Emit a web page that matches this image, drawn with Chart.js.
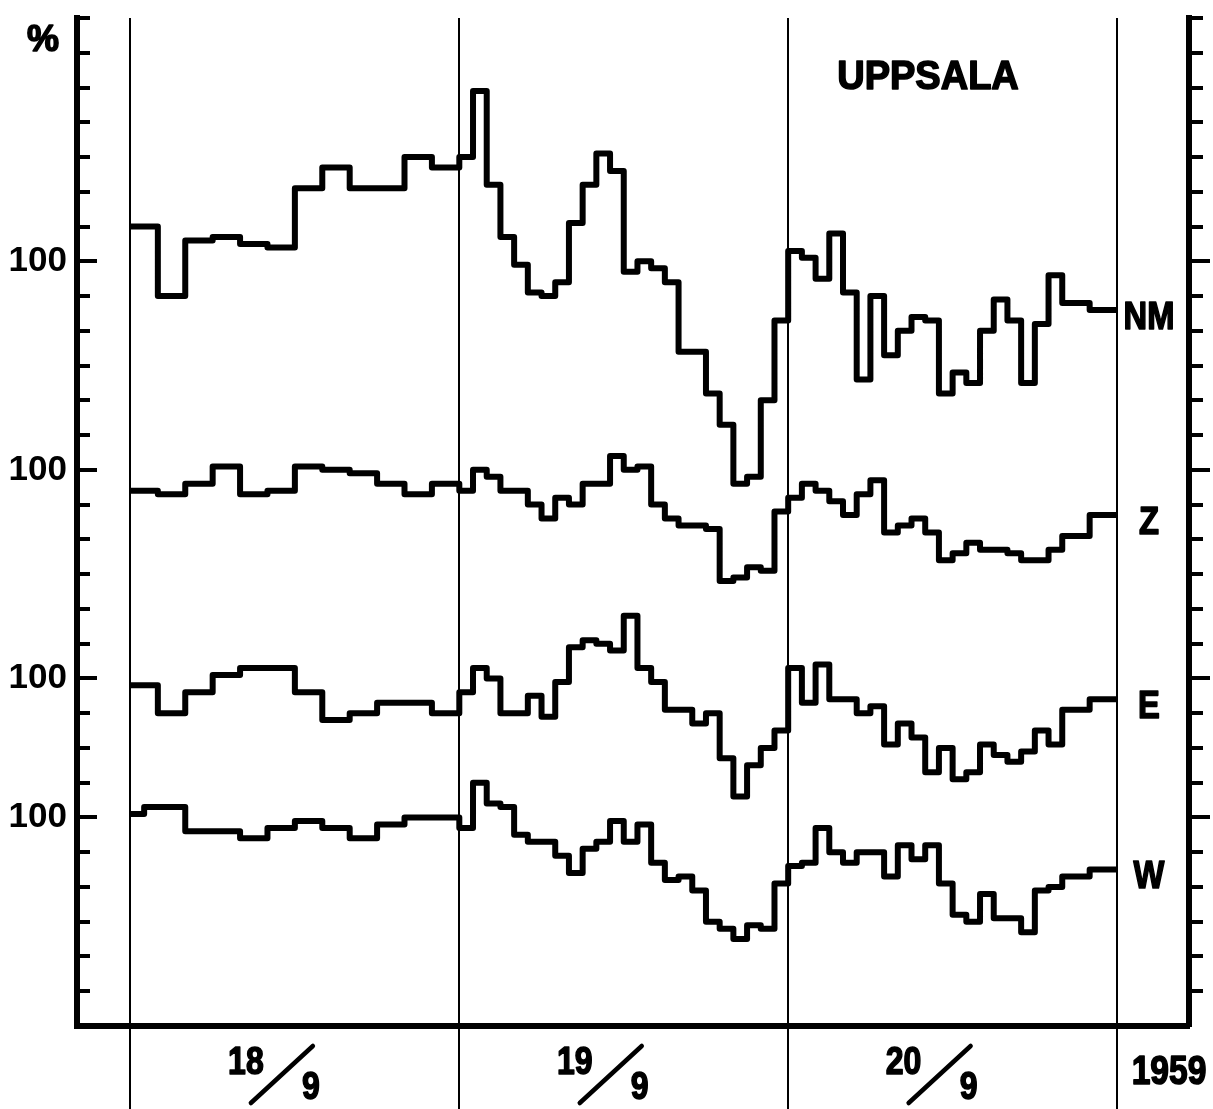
<!DOCTYPE html>
<html lang="sv">
<head>
<meta charset="UTF-8">
<title>Uppsala 18-20/9 1959</title>
<script src="https://cdn.jsdelivr.net/npm/chart.js"></script>
<style>
  html, body { margin: 0; padding: 0; background: #fff; }
  #wrap { position: relative; width: 1213px; height: 1109px; }
</style>
</head>
<body>
<div id="wrap"><canvas id="chart"></canvas></div>
<script>
// hourly values in %, 72 hours from 18/9 00h
const nm = [110,110,90,90,106,106,107,107,105,105,104,104,121,121,127,127,121,121,121,121,130,130,127,127,
            130,149,122,107,99,91,90,94,111,122,131,126,97,100,98,94,74,74,62,53,36,38,60,83,
            103,101,95,108,91,66,90,73,80,84,83,62,68,65,80,89,83,65,82,96,88,88,86,86];
const z  = [94,94,93,93,96,96,101,101,93,93,94,94,101,101,100,100,99,99,96,96,93,93,96,96,
            94,100,98,94,94,90,86,92,90,96,96,104,100,101,90,86,84,84,83,68,69,72,71,88,
            92,96,94,91,87,93,97,82,84,86,82,74,76,79,77,77,76,74,74,77,81,81,87,87];
const e  = [98,98,90,90,96,96,101,101,103,103,103,103,96,96,88,88,90,90,93,93,93,93,90,90,
            96,103,100,90,90,95,89,99,109,111,110,108,118,103,99,91,91,87,90,77,66,75,80,85,
            103,93,104,94,94,90,92,81,87,83,73,80,71,73,81,78,76,79,85,81,91,91,94,94];
const w  = [101,103,103,103,96,96,96,96,94,94,97,97,99,99,97,97,94,94,98,98,100,100,100,100,
            97,110,104,103,95,93,93,89,84,91,93,99,93,98,87,82,83,79,70,68,65,69,68,81,
            86,87,97,90,87,90,90,83,92,88,92,81,72,70,78,71,71,67,79,80,83,83,85,85];

const seriesNames = ['NM', 'Z', 'E', 'W'];
const seriesValues = [nm, z, e, w];
// where each curve's 100 % sits on the common axis (one tick = 10 %)
const baseLevels = [220, 160, 100, 60];
const yTickLabel = '100';
const days = ['18', '19', '20'];
const month = '9';
const year = '1959';
const station = 'UPPSALA';
const dayEdges = [0, 24, 48, 72];

const FONT = '"Liberation Sans", Arial, sans-serif';

const datasets = seriesValues.map((vals, i) => {
  const pts = vals.map((v, h) => ({ x: h, y: baseLevels[i] + v - 100 }));
  // close the last hour
  pts.push({ x: vals.length, y: pts[pts.length - 1].y });
  return {
    label: seriesNames[i],
    data: pts,
    stepped: true,
    borderColor: '#000',
    borderWidth: 6,
    borderJoinStyle: 'round',
    pointRadius: 0,
    fill: false,
    yAxisID: 'y'
  };
});

// bold lettering, a bit heavier than the font itself
function txt(ctx, text, cx, cy, size, sx) {
  ctx.save();
  ctx.font = 'bold ' + size + 'px ' + FONT;
  ctx.textAlign = 'center';
  ctx.textBaseline = 'alphabetic';
  ctx.translate(cx, cy + size * 0.358);
  ctx.scale(sx, 1);
  ctx.lineWidth = 1.6;
  ctx.lineJoin = 'round';
  ctx.fillText(text, 0, 0);
  ctx.strokeText(text, 0, 0);
  ctx.restore();
}

const decor = {
  id: 'decor',
  afterDraw(chart) {
    const { ctx, chartArea: a, scales: { x, y } } = chart;
    ctx.save();
    ctx.strokeStyle = '#000';
    ctx.fillStyle = '#000';

    // tick marks: inward on the left axis, outward on the right one
    ctx.lineWidth = 4;
    y.ticks.forEach(t => {
      if (t.value <= 0) return;
      const py = Math.round(y.getPixelForValue(t.value));
      const long = baseLevels.includes(t.value);
      ctx.beginPath();
      ctx.moveTo(a.left, py);
      ctx.lineTo(a.left + (long ? 20 : 13), py);
      ctx.moveTo(a.right, py);
      ctx.lineTo(a.right + (long ? 21 : 14), py);
      ctx.stroke();
    });

    txt(ctx, '%', 43, 38, 36, 1);
    txt(ctx, station, 928, 75, 40, 0.95);

    // curve names next to the last value
    seriesValues.forEach((vals, i) => {
      const py = y.getPixelForValue(baseLevels[i] + vals[vals.length - 1] - 100);
      txt(ctx, seriesNames[i], a.right - 40, py + 5, 38, 0.86);
    });

    // day labels written as fractions
    days.forEach((d, i) => {
      const cx = x.getPixelForValue(12 + 24 * i) - 20;
      txt(ctx, d, cx - 29, a.bottom + 34, 39, 0.82);
      txt(ctx, month, cx + 36, a.bottom + 59, 39, 0.82);
      ctx.lineWidth = 4.5;
      ctx.lineCap = 'round';
      ctx.beginPath();
      ctx.moveTo(cx - 24, a.bottom + 77);
      ctx.lineTo(cx + 38, a.bottom + 20);
      ctx.stroke();
    });
    txt(ctx, year, x.getPixelForValue(72) + 52, a.bottom + 44, 40, 0.84);
    ctx.restore();
  }
};

new Chart(document.getElementById('chart'), {
  type: 'line',
  data: { datasets },
  options: {
    responsive: true,
    maintainAspectRatio: false,
    animation: false,
    devicePixelRatio: 1,
    layout: { padding: { top: 18, left: 0, right: 0, bottom: 0 } },
    plugins: { legend: { display: false }, tooltip: { enabled: false } },
    scales: {
      x: {
        type: 'linear',
        min: -3.9,
        max: 77.25,
        afterFit: s => { s.height = 83; },
        afterBuildTicks: s => { s.ticks = dayEdges.map(v => ({ value: v })); },
        ticks: { display: false },
        grid: {
          display: true, drawOnChartArea: true, drawTicks: true, tickLength: 83,
          color: '#000', lineWidth: 2, tickColor: '#000', tickWidth: 2
        },
        border: { display: true, width: 6, color: '#000' }
      },
      y: {
        position: 'left',
        min: 0,
        max: 290,
        afterFit: s => { s.width = 77; s.paddingTop = 0; s.paddingBottom = 0; },
        ticks: {
          stepSize: 10,
          autoSkip: false,
          padding: 10,
          color: '#000',
          font: { family: FONT, size: 35, weight: 'bold' },
          callback: v => baseLevels.includes(v) ? yTickLabel : ''
        },
        grid: { display: false, drawTicks: false },
        border: { display: true, width: 6, color: '#000' }
      },
      y2: {
        position: 'right',
        min: 0,
        max: 290,
        afterFit: s => { s.width = 24; s.paddingTop = 0; s.paddingBottom = 0; },
        ticks: { display: false, stepSize: 10 },
        grid: { display: false, drawTicks: false },
        border: { display: true, width: 6, color: '#000' }
      }
    }
  },
  plugins: [decor]
});
</script>
</body>
</html>
